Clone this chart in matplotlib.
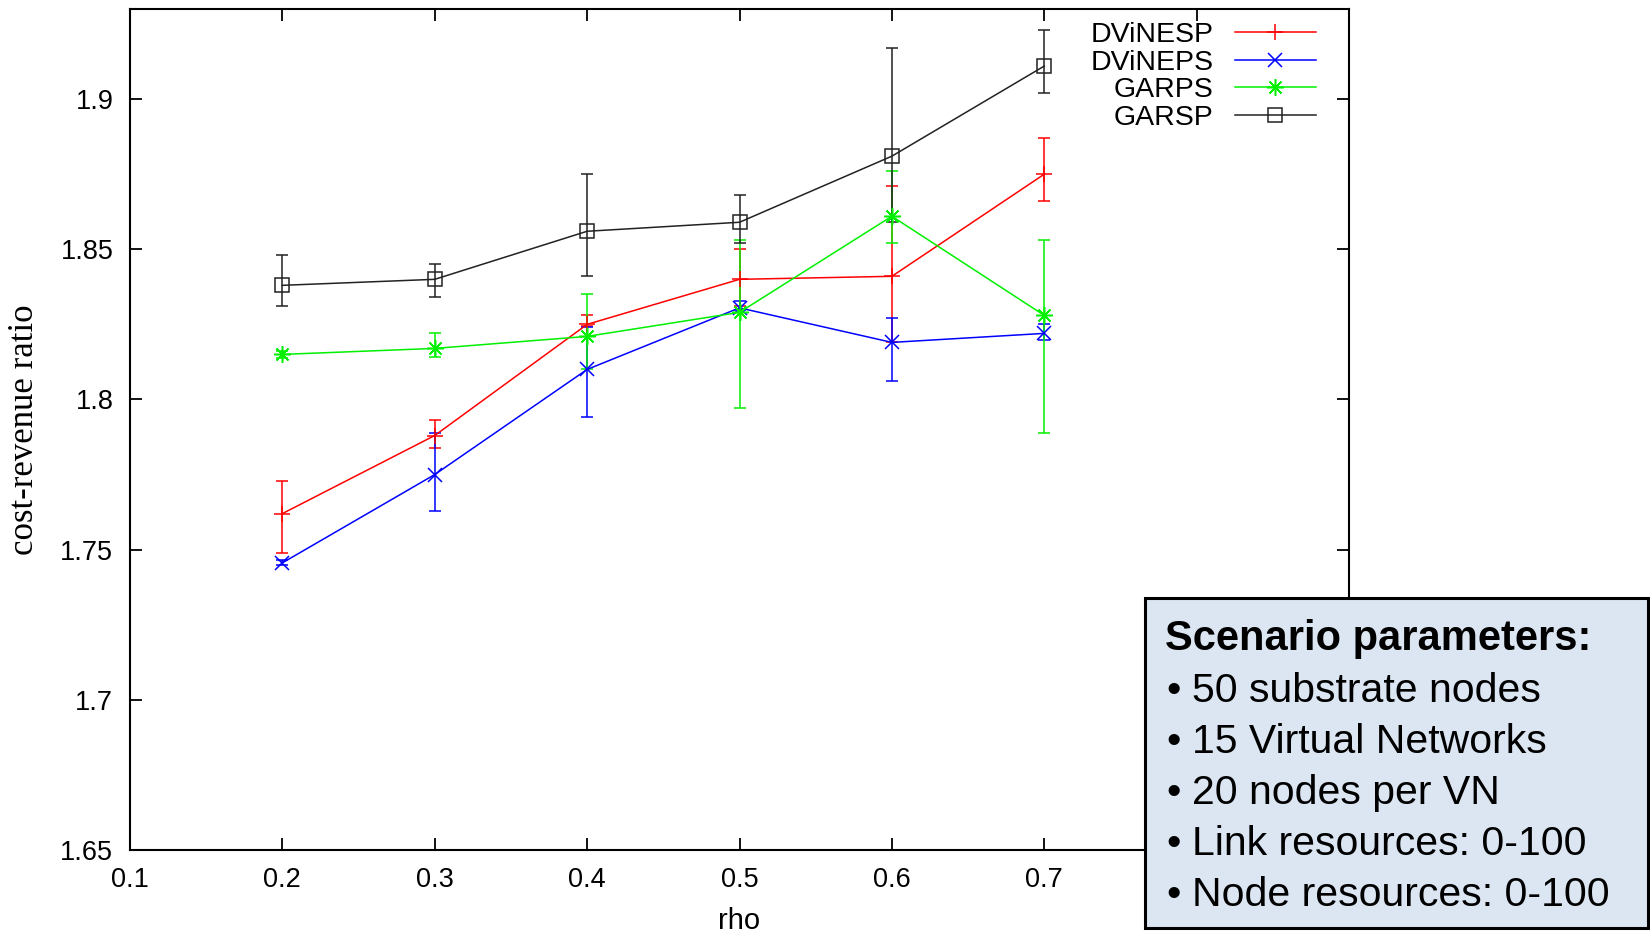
"""cost-revenue ratio vs rho, with scenario box."""

import matplotlib
matplotlib.use("Agg")
import matplotlib.pyplot as plt
from matplotlib.patches import Rectangle

plt.rcParams["font.family"] = ["Liberation Sans", "DejaVu Sans"]

rho = [0.2, 0.3, 0.4, 0.5, 0.6, 0.7]

# mean, low, high per series
dvinesp = [1.762, 1.788, 1.825, 1.840, 1.841, 1.875]
dvinesp_lo = [1.749, 1.784, 1.8245, 1.831, 1.819, 1.866]
dvinesp_hi = [1.773, 1.793, 1.828, 1.850, 1.871, 1.887]

dvineps = [1.7456, 1.775, 1.810, 1.8305, 1.819, 1.822]
dvineps_lo = [1.745, 1.763, 1.794, 1.8297, 1.806, 1.8197]
dvineps_hi = [1.7465, 1.789, 1.824, 1.8327, 1.827, 1.825]

garps = [1.815, 1.817, 1.821, 1.829, 1.861, 1.828]
garps_lo = [1.8138, 1.814, 1.810, 1.797, 1.852, 1.789]
garps_hi = [1.8162, 1.822, 1.835, 1.853, 1.876, 1.853]

garsp = [1.838, 1.840, 1.856, 1.859, 1.881, 1.911]
garsp_lo = [1.831, 1.834, 1.841, 1.852, 1.859, 1.902]
garsp_hi = [1.848, 1.845, 1.875, 1.868, 1.917, 1.923]

series_names = ["DViNESP", "DViNEPS", "GARPS", "GARSP"]

x_ticks = [0.1, 0.2, 0.3, 0.4, 0.5, 0.6, 0.7, 0.8, 0.9]
# 0.8 and 0.9 sit under the scenario box in the original
x_ticklabels = ["0.1", "0.2", "0.3", "0.4", "0.5", "0.6", "0.7", "", ""]
y_ticks = [1.65, 1.7, 1.75, 1.8, 1.85, 1.9]
y_ticklabels = ["1.65", "1.7", "1.75", "1.8", "1.85", "1.9"]

box_title = "Scenario parameters:"
box_lines = [
    "50 substrate nodes",
    "15 Virtual Networks",
    "20 nodes per VN",
    "Link resources: 0-100",
    "Node resources: 0-100",
]

W, H = 1650, 934
fig = plt.figure(figsize=(W / 100, H / 100), dpi=100)
ax = fig.add_axes([130 / W, 1 - 850 / H, (1349 - 130) / W, (850 - 9) / H])

styles = [
    dict(color="#ff0000", marker="+", ms=11, mew=1.1),
    dict(color="#0000ff", marker="x", ms=9.5, mew=1.1),
    dict(color="#00f000", marker=(8, 2, 0), ms=12, mew=1.1),
    dict(color="#222222", marker="s", ms=9.5, mew=1.1, mfc="none"),
]
data = [
    (dvinesp, dvinesp_lo, dvinesp_hi),
    (dvineps, dvineps_lo, dvineps_hi),
    (garps, garps_lo, garps_hi),
    (garsp, garsp_lo, garsp_hi),
]

handles = []
for name, (mean, lo, hi), st in zip(series_names, data, styles):
    err = [[m - l for m, l in zip(mean, lo)], [h - m for m, h in zip(mean, hi)]]
    cont = ax.errorbar(rho, mean, yerr=err, lw=1.1, elinewidth=1.1,
                       capsize=4.3, capthick=1.1, label=name, **st)
    handles.append(cont[0])

ax.set_xlim(0.1, 0.9)
ax.set_ylim(1.65, 1.93)
ax.set_xticks(x_ticks)
ax.set_yticks(y_ticks)
ax.set_xticklabels(x_ticklabels)
ax.set_yticklabels(y_ticklabels)
ax.tick_params(direction="in", length=8.6, width=1.3, top=True, right=True,
               labelsize=19.5, pad=12)
for sp in ax.spines.values():
    sp.set_linewidth(1.5)

ax.set_xlabel("rho", fontsize=21, labelpad=10)
ax.set_ylabel("cost-revenue ratio", fontsize=25, family=["Liberation Serif"], labelpad=14)

leg = ax.legend(handles=handles, labels=series_names, loc="upper right",
                bbox_to_anchor=(1316 / W, 1 - 22 / H), bbox_transform=fig.transFigure,
                frameon=False, markerfirst=False, fontsize=20.5, handlelength=2.85,
                handletextpad=0.75, labelspacing=0.06, borderpad=0, borderaxespad=0,
                numpoints=1)

# Scenario box
fig.add_artist(Rectangle((1145 / W, 1 - 928 / H), (1648 - 1145) / W, (928 - 598) / H,
                         transform=fig.transFigure, facecolor="#dce6f2",
                         edgecolor="black", linewidth=2.2, zorder=10))
fig.text(1165 / W, 1 - 650 / H, box_title, fontsize=30, fontweight="bold",
         va="baseline", ha="left", zorder=11)
for i, line in enumerate(box_lines):
    yb = 1 - (701.5 + i * 51.2) / H
    fig.text(1166 / W, yb, "\u2022", fontsize=29.5, va="baseline", ha="left", zorder=11)
    fig.text(1192 / W, yb, line, fontsize=29.5, va="baseline", ha="left", zorder=11)

fig.savefig("out.png", dpi=100)
